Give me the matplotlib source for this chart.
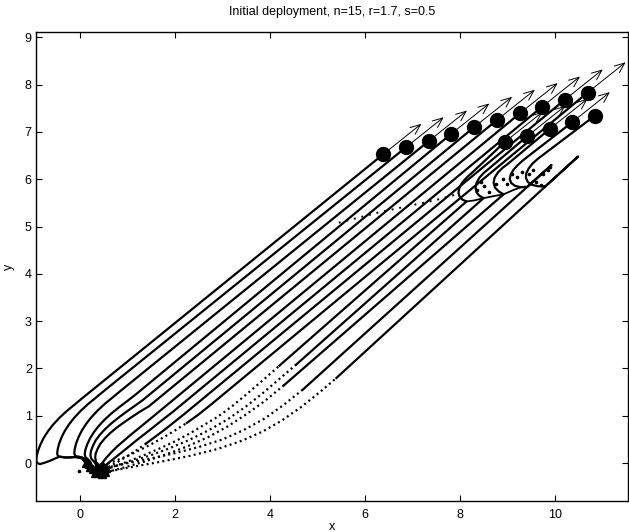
import matplotlib
matplotlib.use("Agg")
import matplotlib.pyplot as plt

plt.rcParams['font.family'] = ['Liberation Sans', 'DejaVu Sans']

title = "Initial deployment, n=15, r=1.7, s=0.5"

# start positions (triangles)
start_x = [0.18, 0.12, 0.22, 0.28, 0.35, 0.38, 0.42, 0.45, 0.40, 0.48, 0.50, 0.32, 0.46, 0.54, 0.52]
start_y = [-0.02, 0.00, -0.08, -0.12, -0.05, -0.15, -0.08, -0.12, -0.19, -0.05, -0.14, -0.20, -0.22, -0.10, -0.19]

# final positions (circles)
end_x = [6.39, 6.86, 7.35, 7.82, 8.30, 8.78, 9.26, 9.73, 10.21, 10.69, 8.94, 9.42, 9.89, 10.36, 10.84]
end_y = [6.53, 6.67, 6.81, 6.96, 7.10, 7.25, 7.39, 7.53, 7.68, 7.83, 6.78, 6.91, 7.06, 7.20, 7.34]

# velocity arrows
vel_u = [0.80] * 15
vel_v = [0.64] * 15

# trajectories (waypoints); dotted_n = number of leading segments drawn dotted
traj_x = [
    [0.18, 0.12, 0.02, -0.10, -0.22, -0.32, -0.42, -0.52, -0.63, -0.74, -0.84, -0.90, -0.92, -0.91, -0.88, -0.83,
     -0.76, -0.67, -0.56, -0.43, -0.28, -0.11, 0.07, 6.39],
    [0.12, 0.04, -0.10, -0.22, -0.32, -0.40, -0.46, -0.48, -0.47, -0.44, -0.39, -0.32, -0.23, -0.12, 0.01, 0.16,
     0.33, 0.51, 6.86],
    [0.22, 0.15, 0.05, -0.04, -0.10, -0.12, -0.11, -0.08, -0.03, 0.04, 0.13, 0.24, 0.37, 0.52, 0.69, 0.87, 7.35],
    [0.28, 0.22, 0.16, 0.12, 0.10, 0.11, 0.15, 0.21, 0.29, 0.39, 0.51, 0.65, 0.81, 0.98, 1.16, 7.82],
    [0.35, 0.29, 0.24, 0.22, 0.23, 0.27, 0.33, 0.42, 0.53, 0.66, 0.81, 0.97, 1.14, 1.32, 8.30],
    [0.38, 0.35, 0.34, 0.32, 0.33, 0.37, 0.43, 0.52, 0.63, 0.76, 0.91, 1.07, 1.25, 1.45, 8.78],
    [0.42, 0.48, 0.56, 0.66, 0.78, 0.92, 1.07, 1.23, 1.40, 1.57, 9.26],
    [0.45, 0.58, 0.72, 0.87, 1.03, 1.20, 1.38, 1.57, 1.77, 1.95, 9.73],
    [0.40, 0.60, 0.80, 1.00, 1.20, 1.40, 1.60, 1.80, 2.00, 2.20, 10.21],
    [0.48, 0.75, 1.00, 1.25, 1.50, 1.75, 2.00, 2.25, 2.50, 2.75, 10.69],
    [0.50, 0.80, 1.10, 1.40, 1.70, 2.00, 2.30, 2.60, 2.90, 3.20, 3.50, 3.85, 4.20, 8.14,
     8.05, 7.99, 7.97, 7.99, 8.05, 8.15, 8.27, 8.94],
    [0.32, 0.70, 1.10, 1.50, 1.90, 2.30, 2.70, 3.10, 3.50, 3.85, 4.20, 4.55, 8.50,
     8.41, 8.35, 8.33, 8.35, 8.41, 8.50, 8.62, 9.42],
    [0.46, 0.90, 1.35, 1.80, 2.25, 2.70, 3.10, 3.50, 3.90, 4.30, 8.92,
     8.82, 8.74, 8.71, 8.73, 8.80, 8.90, 9.03, 9.89],
    [0.54, 1.00, 1.50, 2.00, 2.50, 3.00, 3.45, 3.90, 4.30, 4.70, 9.93,
     9.42, 9.28, 9.16, 9.08, 9.05, 9.07, 9.13, 9.22, 9.33, 10.36],
    [0.52, 1.10, 1.70, 2.30, 2.90, 3.40, 3.85, 4.25, 4.65, 5.05, 5.40, 10.49,
     9.80, 9.65, 9.52, 9.43, 9.39, 9.40, 9.45, 9.53, 9.64, 10.84],
]
traj_y = [
    [-0.02, 0.06, 0.12, 0.13, 0.12, 0.12, 0.14, 0.10, 0.05, 0.01, -0.02, 0.00, 0.06, 0.15, 0.27, 0.40,
     0.54, 0.68, 0.82, 0.96, 1.10, 1.24, 1.39, 6.53],
    [0.00, 0.10, 0.13, 0.12, 0.12, 0.13, 0.14, 0.20, 0.29, 0.41, 0.54, 0.68, 0.82, 0.96, 1.10, 1.24,
     1.38, 1.53, 6.67],
    [-0.08, 0.06, 0.12, 0.14, 0.15, 0.21, 0.30, 0.42, 0.55, 0.69, 0.83, 0.97, 1.11, 1.25, 1.39, 1.54, 6.81],
    [-0.12, 0.02, 0.09, 0.12, 0.18, 0.27, 0.39, 0.52, 0.65, 0.78, 0.91, 1.04, 1.17, 1.30, 1.44, 6.96],
    [-0.05, 0.04, 0.09, 0.16, 0.25, 0.36, 0.48, 0.60, 0.72, 0.84, 0.96, 1.08, 1.20, 1.33, 7.10],
    [-0.15, -0.05, 0.02, 0.12, 0.20, 0.30, 0.41, 0.52, 0.63, 0.74, 0.85, 0.96, 1.08, 1.20, 7.25],
    [-0.08, 0.02, 0.12, 0.23, 0.35, 0.47, 0.60, 0.73, 0.87, 1.01, 7.39],
    [-0.12, -0.01, 0.10, 0.22, 0.35, 0.49, 0.63, 0.78, 0.94, 1.08, 7.53],
    [-0.19, -0.08, 0.03, 0.15, 0.28, 0.42, 0.57, 0.72, 0.88, 1.04, 7.68],
    [-0.05, 0.05, 0.15, 0.27, 0.40, 0.54, 0.69, 0.85, 1.03, 1.23, 7.83],
    [-0.14, -0.04, 0.07, 0.19, 0.32, 0.46, 0.62, 0.80, 0.98, 1.20, 1.45, 1.75, 2.06, 5.53,
     5.57, 5.64, 5.72, 5.82, 5.93, 6.04, 6.15, 6.78],
    [-0.20, -0.08, 0.04, 0.17, 0.32, 0.49, 0.69, 0.92, 1.20, 1.48, 1.78, 2.08, 5.60,
     5.65, 5.72, 5.82, 5.92, 6.03, 6.13, 6.23, 6.91],
    [-0.22, -0.10, 0.03, 0.18, 0.35, 0.55, 0.77, 1.03, 1.32, 1.65, 5.68,
     5.74, 5.82, 5.92, 6.03, 6.14, 6.24, 6.34, 7.06],
    [-0.10, 0.00, 0.10, 0.21, 0.34, 0.50, 0.70, 0.95, 1.24, 1.56, 6.30,
     5.84, 5.83, 5.86, 5.92, 6.00, 6.10, 6.20, 6.30, 6.40, 7.20],
    [-0.19, -0.08, 0.03, 0.15, 0.30, 0.47, 0.67, 0.90, 1.18, 1.50, 1.80, 6.48,
     5.85, 5.85, 5.88, 5.94, 6.03, 6.13, 6.23, 6.33, 6.43, 7.34],
]
dotted_n = [0, 0, 0, 0, 0, 0, 0, 0, 5, 7, 12, 11, 9, 9, 10]

# drift line linking the hooks near the final positions
drift_x = [8.14, 8.30, 8.50, 8.70, 8.92, 9.10, 9.28]
drift_y = [5.53, 5.55, 5.60, 5.64, 5.68, 5.76, 5.83]

# sparse fast transit (dotted)
transit_x = [5.45, 5.72, 6.30, 6.90, 7.50, 7.93]
transit_y = [5.08, 5.15, 5.30, 5.43, 5.56, 5.68]

# scattered single samples
stray_x = [8.35, 8.50, 8.62, 8.75, 8.90, 9.00, 9.10, 9.20, 9.30, 9.45, 9.55, 9.60, 9.75, 9.85, 9.90, 9.70, 8.45, -0.02]
stray_y = [5.78, 5.85, 5.72, 5.90, 6.00, 5.90, 6.10, 6.05, 6.15, 6.10, 6.20, 5.95, 6.10, 6.20, 6.25, 5.88, 5.95, -0.16]

fig = plt.figure(figsize=(6.29, 5.32), dpi=100)
ax = fig.add_axes([36 / 629, 31 / 532, 592 / 629, 469 / 532])

lw = 1.6
dot_style = (0, (0.9, 1.5))
for tx, ty, nd in zip(traj_x, traj_y, dotted_n):
    if nd > 0:
        ax.plot(tx[:nd + 1], ty[:nd + 1], color='k', lw=1.6, linestyle=dot_style,
                solid_capstyle='butt', zorder=2)
        ax.plot(tx[nd:], ty[nd:], color='k', lw=lw, zorder=2)
    else:
        ax.plot(tx, ty, color='k', lw=lw, zorder=2)

ax.plot(drift_x, drift_y, color='k', lw=1.3, zorder=2)
ax.plot(transit_x, transit_y, color='k', lw=1.4, linestyle=(0, (1.0, 3.0)), zorder=2)
ax.plot(stray_x, stray_y, linestyle='none', marker='o', ms=1.6, color='k', zorder=2)

for x, y, u, v in zip(end_x, end_y, vel_u, vel_v):
    ax.annotate('', xy=(x + u, y + v), xytext=(x, y),
                arrowprops=dict(arrowstyle='->,head_length=0.6,head_width=0.25',
                                lw=0.7, color='k', shrinkA=0, shrinkB=0,
                                mutation_scale=12), zorder=3)

ax.plot(end_x, end_y, linestyle='none', marker='o', ms=10, color='k', zorder=4)
ax.plot(start_x, start_y, linestyle='none', marker='^', ms=6, color='k', zorder=4)

ax.set_xlim(-0.926, 11.54)
ax.set_ylim(-0.80, 9.11)
ax.set_xticks([0, 2, 4, 6, 8, 10])
ax.set_yticks(list(range(0, 10)))
ax.tick_params(direction='in', length=4, width=0.8, top=True, right=True,
               labelsize=9, pad=3)
ax.tick_params(axis='x', pad=5.5)
for s in ax.spines.values():
    s.set_linewidth(1.0)

ax.set_title(title, fontsize=9, pad=12)
ax.set_xlabel('x', fontsize=9, labelpad=0)
ax.set_ylabel('y', fontsize=9, labelpad=7)

fig.savefig('out.png', dpi=100)
